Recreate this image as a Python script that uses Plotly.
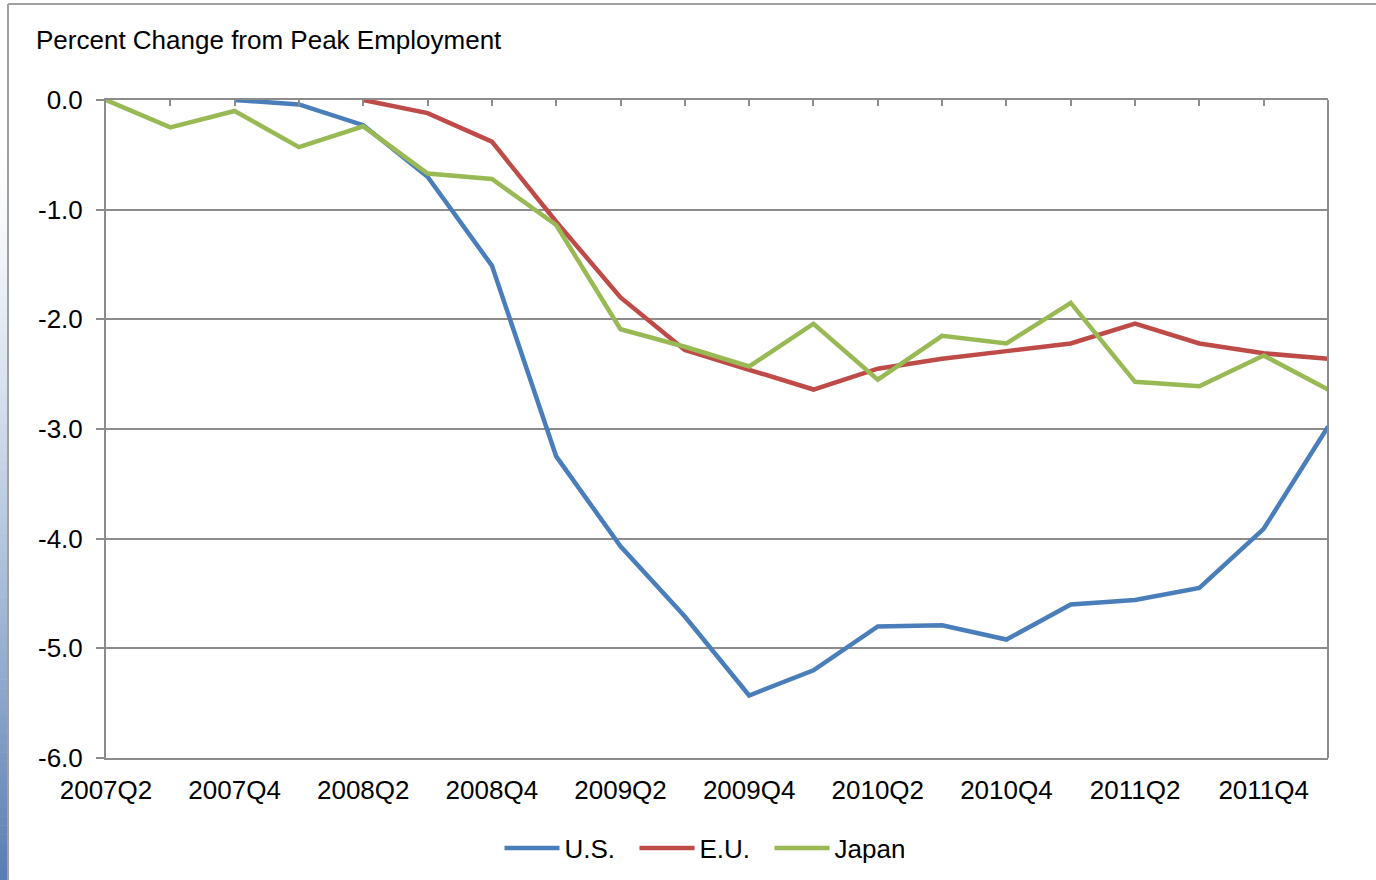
import plotly.graph_objects as go

# Quarterly categories, 2007Q2 through 2012Q1
quarters = [
    "2007Q2", "2007Q3", "2007Q4",
    "2008Q1", "2008Q2", "2008Q3", "2008Q4",
    "2009Q1", "2009Q2", "2009Q3", "2009Q4",
    "2010Q1", "2010Q2", "2010Q3", "2010Q4",
    "2011Q1", "2011Q2", "2011Q3", "2011Q4",
    "2012Q1",
]

# Percent change from each region's peak employment (None before the peak)
us = [None, None, 0.0, -0.04, -0.23, -0.70, -1.51, -3.25, -4.07, -4.71, -5.43,
      -5.20, -4.80, -4.79, -4.92, -4.60, -4.56, -4.45, -3.91, -2.98]
eu = [None, None, None, None, 0.0, -0.12, -0.38, -1.11, -1.80, -2.28, -2.46,
      -2.64, -2.45, -2.36, -2.29, -2.22, -2.04, -2.22, -2.31, -2.36]
japan = [0.0, -0.25, -0.10, -0.43, -0.24, -0.67, -0.72, -1.14, -2.09, -2.25, -2.43,
         -2.04, -2.55, -2.15, -2.22, -1.85, -2.57, -2.61, -2.33, -2.64]

y_ticks = [0, -1, -2, -3, -4, -5, -6]
x_tick_labels = quarters[::2]

W, H = 1376, 880
L, R, T, B = 106, 1328, 100, 758

def px(x):
    return (x - L) / (R - L)

def py(y):
    return (B - y) / (B - T)

GRID = "#8c8c8c"
FONT = "Liberation Sans, Arial, sans-serif"
FS = 26

fig = go.Figure()
series = [("U.S.", us, "#4a7ebb"), ("E.U.", eu, "#be4b48"), ("Japan", japan, "#98b954")]
for name, vals, color in series:
    fig.add_trace(go.Scatter(
        x=quarters, y=vals, name=name, mode="lines",
        line=dict(color=color, width=4.5), connectgaps=False,
    ))

# helper trace for the tick marks along the zero line
fig.add_trace(go.Scatter(x=quarters, y=[None] * len(quarters), xaxis="x2",
                         showlegend=False, hoverinfo="skip"))

shapes = []
# outer chart frame
shapes.append(dict(type="line", xref="paper", yref="paper",
                   x0=px(8), x1=px(1376), y0=py(4), y1=py(4),
                   line=dict(color="#a0a0a0", width=2)))
shapes.append(dict(type="line", xref="paper", yref="paper",
                   x0=px(8), x1=px(8), y0=py(4), y1=py(880),
                   line=dict(color="#a0a0a0", width=2)))
# shaded strip along the left edge
n = 80
top, bot = 150, 880
for i in range(n):
    y0 = top + (bot - top) * i / n
    y1 = top + (bot - top) * (i + 1) / n
    t = (i + 0.5) / n
    r = int(255 + (88 - 255) * t ** 1.3)
    g = int(255 + (125 - 255) * t ** 1.3)
    b = int(255 + (180 - 255) * t ** 1.3)
    shapes.append(dict(type="rect", xref="paper", yref="paper",
                       x0=px(0), x1=px(7), y0=py(y1 + 0.5), y1=py(y0),
                       fillcolor=f"rgb({r},{g},{b})", line=dict(width=0)))
# right border of plot area
shapes.append(dict(type="line", xref="paper", yref="paper",
                   x0=1, x1=1, y0=0, y1=1, line=dict(color=GRID, width=2)))

fig.update_layout(
    width=W, height=H,
    margin=dict(l=L, r=W - R, t=T, b=H - B, autoexpand=False),
    paper_bgcolor="white", plot_bgcolor="white",
    font=dict(family=FONT, size=FS, color="black"),
    showlegend=True,
    legend=dict(orientation="h", x=px(702), xanchor="center", y=py(848), yanchor="middle",
                font=dict(size=FS), itemwidth=55, entrywidth=65, entrywidthmode="pixels",
                traceorder="normal", bgcolor="rgba(0,0,0,0)"),
    shapes=shapes,
    annotations=[dict(text="Percent Change from Peak Employment", xref="paper", yref="paper",
                      x=px(34), y=py(40), xanchor="left", yanchor="middle",
                      showarrow=False, font=dict(size=FS))],
    xaxis=dict(
        type="category", range=[0, len(quarters) - 1],
        tickmode="array", tickvals=x_tick_labels, ticktext=x_tick_labels,
        ticks="", showgrid=False, zeroline=False,
        showline=True, linecolor=GRID, linewidth=2,
        tickfont=dict(size=FS), ticklabelstandoff=8,
    ),
    xaxis2=dict(
        type="category", range=[0, len(quarters) - 1], overlaying="x", side="top",
        anchor="y", tickmode="array", tickvals=quarters, showticklabels=False,
        ticks="inside", ticklen=6, tickwidth=2, tickcolor=GRID,
        showline=True, linecolor=GRID, linewidth=2, showgrid=False, zeroline=False,
    ),
    yaxis=dict(
        range=[-6, 0], tickmode="array", tickvals=y_ticks,
        ticktext=[f"{v:.1f}" for v in y_ticks],
        showgrid=True, gridcolor=GRID, gridwidth=2,
        ticks="outside", ticklen=8, tickwidth=2, tickcolor=GRID,
        showline=True, linecolor=GRID, linewidth=2, zeroline=False,
        tickfont=dict(size=FS), ticklabelstandoff=8,
    ),
)

fig.write_html("out.html")
